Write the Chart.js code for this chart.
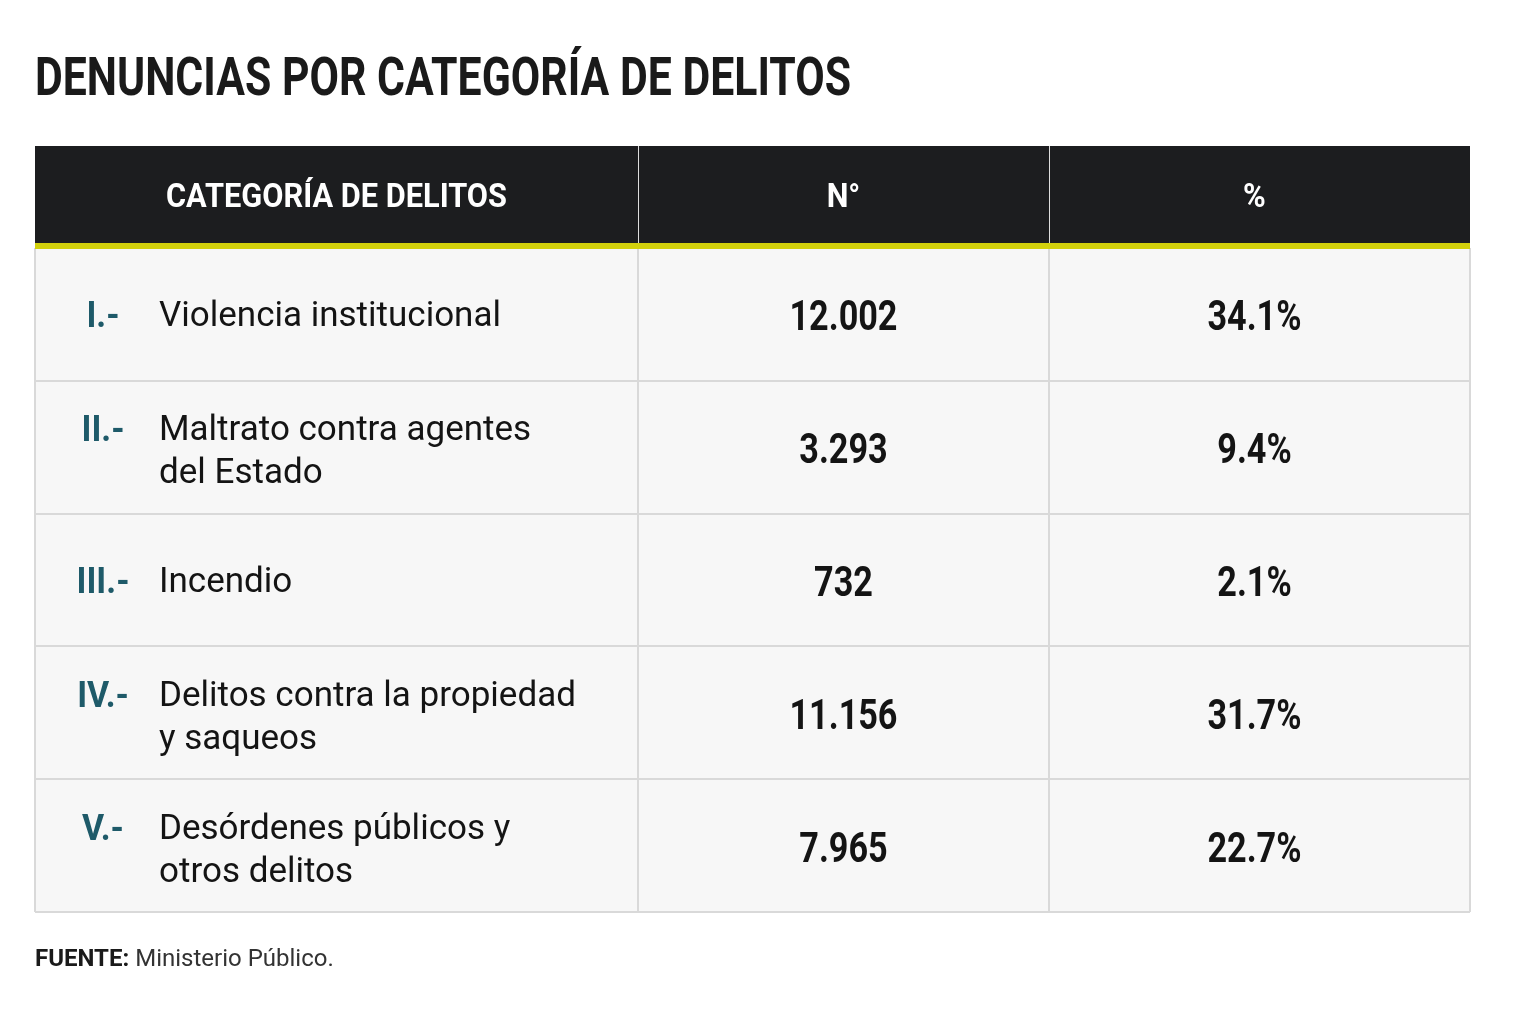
<!DOCTYPE html>
<html lang="es">
<head>
<meta charset="utf-8">
<title>Denuncias por categoría de delitos</title>
<script src="https://cdn.jsdelivr.net/npm/chart.js@4.4.1/dist/chart.umd.min.js"></script>
<style>
  html, body { margin: 0; padding: 0; background: #ffffff; }
  canvas { display: block; }
</style>
</head>
<body>
<canvas id="tabla" width="1536" height="1024"></canvas>
<script>
// Datos de la tabla
const title = "DENUNCIAS POR CATEGORÍA DE DELITOS";
const headers = ["CATEGORÍA DE DELITOS", "N°", "%"];
const romans = ["I.-", "II.-", "III.-", "IV.-", "V.-"];
const categories = [
  ["Violencia institucional"],
  ["Maltrato contra agentes", "del Estado"],
  ["Incendio"],
  ["Delitos contra la propiedad", "y saqueos"],
  ["Desórdenes públicos y", "otros delitos"]
];
const counts = [12002, 3293, 732, 11156, 7965];
const percents = [34.1, 9.4, 2.1, 31.7, 22.7];
const sourceLabel = "FUENTE:";
const sourceText = " Ministerio Público.";

// Layout (columnas en unidades del eje x, 0-100)
const colEdges = [0, 42.02, 70.66, 100];
const headerTop = 146;
const headerBottom = 243;

const BOLD = "Roboto, 'Liberation Sans', sans-serif";
const SANS = "Roboto, 'Liberation Sans', sans-serif";
const F_TITLE = "bold 53px " + BOLD;
const F_HEAD = "bold 34px " + BOLD;
const F_NUM = "bold 42px " + BOLD;
const F_ROMAN = "bold 37px " + BOLD;
const F_BODY = "35px " + SANS;

function fmtCount(n) {
  return String(n).replace(/\B(?=(\d{3})+(?!\d))/g, ".");
}

// factor de condensado horizontal para que un texto de muestra tenga el ancho dado
function squeeze(ctx, sample, font, target) {
  ctx.save();
  ctx.font = font;
  const w = ctx.measureText(sample).width;
  ctx.restore();
  return Math.min(1, target / w);
}

function drawText(ctx, str, x, y, font, color, align, sx) {
  ctx.save();
  ctx.font = font;
  ctx.fillStyle = color;
  ctx.textAlign = align || "left";
  ctx.textBaseline = "alphabetic";
  ctx.translate(x, y);
  ctx.scale(sx || 1, 1);
  ctx.fillText(str, 0, 0);
  ctx.restore();
}

const tablePlugin = {
  id: "tablePlugin",
  afterDraw(chart) {
    const ctx = chart.ctx;
    const area = chart.chartArea;
    const xs = chart.scales.x;
    const ys = chart.scales.y;

    const sTitle = squeeze(ctx, title, F_TITLE, 816);
    const sHead = squeeze(ctx, headers[0], F_HEAD, 341);
    const sNum = squeeze(ctx, "12.002", F_NUM, 108);
    const sRoman = squeeze(ctx, "III.-", F_ROMAN, 53);

    // titulo
    drawText(ctx, title, area.left, 95, F_TITLE, "#1a1a1a", "left", sTitle);

    // cabecera
    ctx.fillStyle = "#1c1d1f";
    ctx.fillRect(area.left, headerTop, area.right - area.left, headerBottom - headerTop);
    ctx.fillStyle = "#d2d00c";
    ctx.fillRect(area.left, headerBottom, area.right - area.left, area.top - headerBottom + 1);
    ctx.strokeStyle = "rgba(255,255,255,0.85)";
    ctx.lineWidth = 1;
    for (let j = 1; j < colEdges.length - 1; j++) {
      const x = Math.round(xs.getPixelForValue(colEdges[j])) + 0.5;
      ctx.beginPath();
      ctx.moveTo(x, headerTop);
      ctx.lineTo(x, headerBottom);
      ctx.stroke();
    }
    headers.forEach((h, j) => {
      const cx = xs.getPixelForValue((colEdges[j] + colEdges[j + 1]) / 2) - (j === 2 ? 5 : 0);
      drawText(ctx, h, cx, 207, F_HEAD, "#ffffff", "center", sHead);
    });

    // filas
    const labelX = area.left + 124;
    const romanX = area.left + 68;
    const c1 = xs.getPixelForValue((colEdges[1] + colEdges[2]) / 2);
    const c2 = xs.getPixelForValue((colEdges[2] + colEdges[3]) / 2) - 5;
    categories.forEach((lines, i) => {
      const cy = ys.getPixelForValue(i);
      const first = lines.length > 1 ? cy - 7 : cy + 12;
      lines.forEach((ln, k) => {
        drawText(ctx, ln, labelX, first + k * 43, F_BODY, "#141414", "left");
      });
      drawText(ctx, romans[i], romanX, first + 1, F_ROMAN, "#1e5a69", "center", sRoman);
      drawText(ctx, fmtCount(counts[i]), c1, cy + 16, F_NUM, "#141414", "center", sNum);
      drawText(ctx, percents[i].toFixed(1) + "%", c2, cy + 16, F_NUM, "#141414", "center", sNum);
    });

    // fuente
    ctx.save();
    ctx.font = "bold 24px " + SANS;
    const w = ctx.measureText(sourceLabel).width;
    ctx.restore();
    drawText(ctx, sourceLabel, area.left, 966, "bold 24px " + SANS, "#1a1a1a", "left");
    drawText(ctx, sourceText, area.left + w, 966, "24px " + SANS, "#333333", "left");
  }
};

const ctx = document.getElementById("tabla").getContext("2d");
const chart = new Chart(ctx, {
  type: "bar",
  data: {
    labels: categories.map(l => l.join(" ")),
    datasets: [{
      label: "Denuncias",
      data: categories.map(() => [colEdges[0], colEdges[colEdges.length - 1]]),
      backgroundColor: "#f7f7f7",
      borderWidth: 0,
      categoryPercentage: 1,
      barPercentage: 1
    }]
  },
  options: {
    indexAxis: "y",
    responsive: false,
    animation: false,
    devicePixelRatio: 1,
    events: [],
    layout: { padding: { left: 35, right: 66, top: 248, bottom: 112 } },
    plugins: {
      legend: { display: false },
      title: { display: false },
      tooltip: { enabled: false }
    },
    scales: {
      x: {
        type: "linear",
        min: 0,
        max: 100,
        afterBuildTicks: s => { s.ticks = colEdges.map(v => ({ value: v })); },
        ticks: { display: false },
        grid: { color: "#d9d9d9", lineWidth: 2, drawTicks: false, z: 1 },
        border: { display: false }
      },
      y: {
        type: "category",
        ticks: { display: false },
        grid: { color: "#d9d9d9", lineWidth: 2, drawTicks: false, offset: true, z: 1 },
        border: { display: false }
      }
    }
  },
  plugins: [tablePlugin]
});
</script>
</body>
</html>
